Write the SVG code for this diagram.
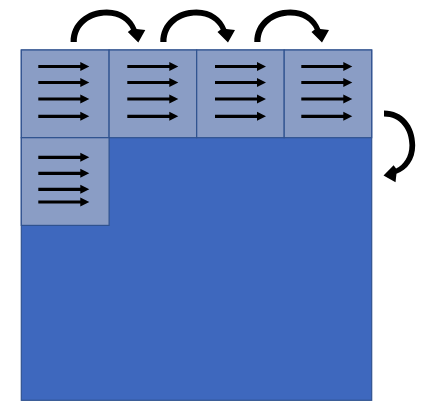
<svg xmlns="http://www.w3.org/2000/svg" xmlns:xlink="http://www.w3.org/1999/xlink" width="424" height="419" viewBox="0 0 424 419">
<style>
.big{fill:#3E68BE;stroke:#2F528F;stroke-width:1.2}
.tile{fill:#8A9DC5;stroke:#2F528F;stroke-width:1.2}
.arr{fill:#000}
</style>
<defs>
<path id="sa" d="M0,-1.6 H42 V-4.5 L51,0 L42,4.5 V1.6 H0 Z"/>
<path id="ca" d="M-3.2,0 C-3.2,-19.5 12.5,-32.5 33,-32.5 C48.5,-32.5 58.5,-24 62.8,-13 L71.5,-12 L64.5,0.5 L54,-10 L57.2,-12.6 C53.5,-20.5 45,-26.5 33,-26.5 C17,-26.5 3,-17 3,0 Z"/>
</defs>
<rect width="424" height="419" fill="#fff"/>
<g id="matrix"><rect class="big" x="21.3" y="50" width="350.4" height="350.3"/></g>
<g id="tile1"><rect class="tile" x="21.3" y="50" width="87.8" height="87.7"/>
<g class="arr"><use href="#sa" x="38.3" y="66.5"/><use href="#sa" x="38.3" y="82.5"/><use href="#sa" x="38.3" y="99"/><use href="#sa" x="38.3" y="116.3"/></g></g>
<g id="tile2"><rect class="tile" x="109.1" y="50" width="87.6" height="87.7"/>
<g class="arr"><use href="#sa" x="127.3" y="66.5"/><use href="#sa" x="127.3" y="82.5"/><use href="#sa" x="127.3" y="99"/><use href="#sa" x="127.3" y="116.3"/></g></g>
<g id="tile3"><rect class="tile" x="196.7" y="50" width="87.5" height="87.7"/>
<g class="arr"><use href="#sa" x="215" y="66.5"/><use href="#sa" x="215" y="82.5"/><use href="#sa" x="215" y="99"/><use href="#sa" x="215" y="116.3"/></g></g>
<g id="tile4"><rect class="tile" x="284.2" y="50" width="87.5" height="87.7"/>
<g class="arr"><use href="#sa" x="301.3" y="66.5"/><use href="#sa" x="301.3" y="82.5"/><use href="#sa" x="301.3" y="99"/><use href="#sa" x="301.3" y="116.3"/></g></g>
<g id="tile5"><rect class="tile" x="21.3" y="137.7" width="87.8" height="87.7"/>
<g class="arr"><use href="#sa" x="38.3" y="157.3"/><use href="#sa" x="38.3" y="173.3"/><use href="#sa" x="38.3" y="189.3"/><use href="#sa" x="38.3" y="202"/></g></g>
<g id="connectors" class="arr">
<use href="#ca" transform="translate(73.8,42)"/>
<use href="#ca" transform="translate(163.5,42)"/>
<use href="#ca" transform="translate(257.5,42)"/>
<use href="#ca" transform="translate(384,113.5) rotate(90) scale(0.96)"/>
</g>
</svg>
